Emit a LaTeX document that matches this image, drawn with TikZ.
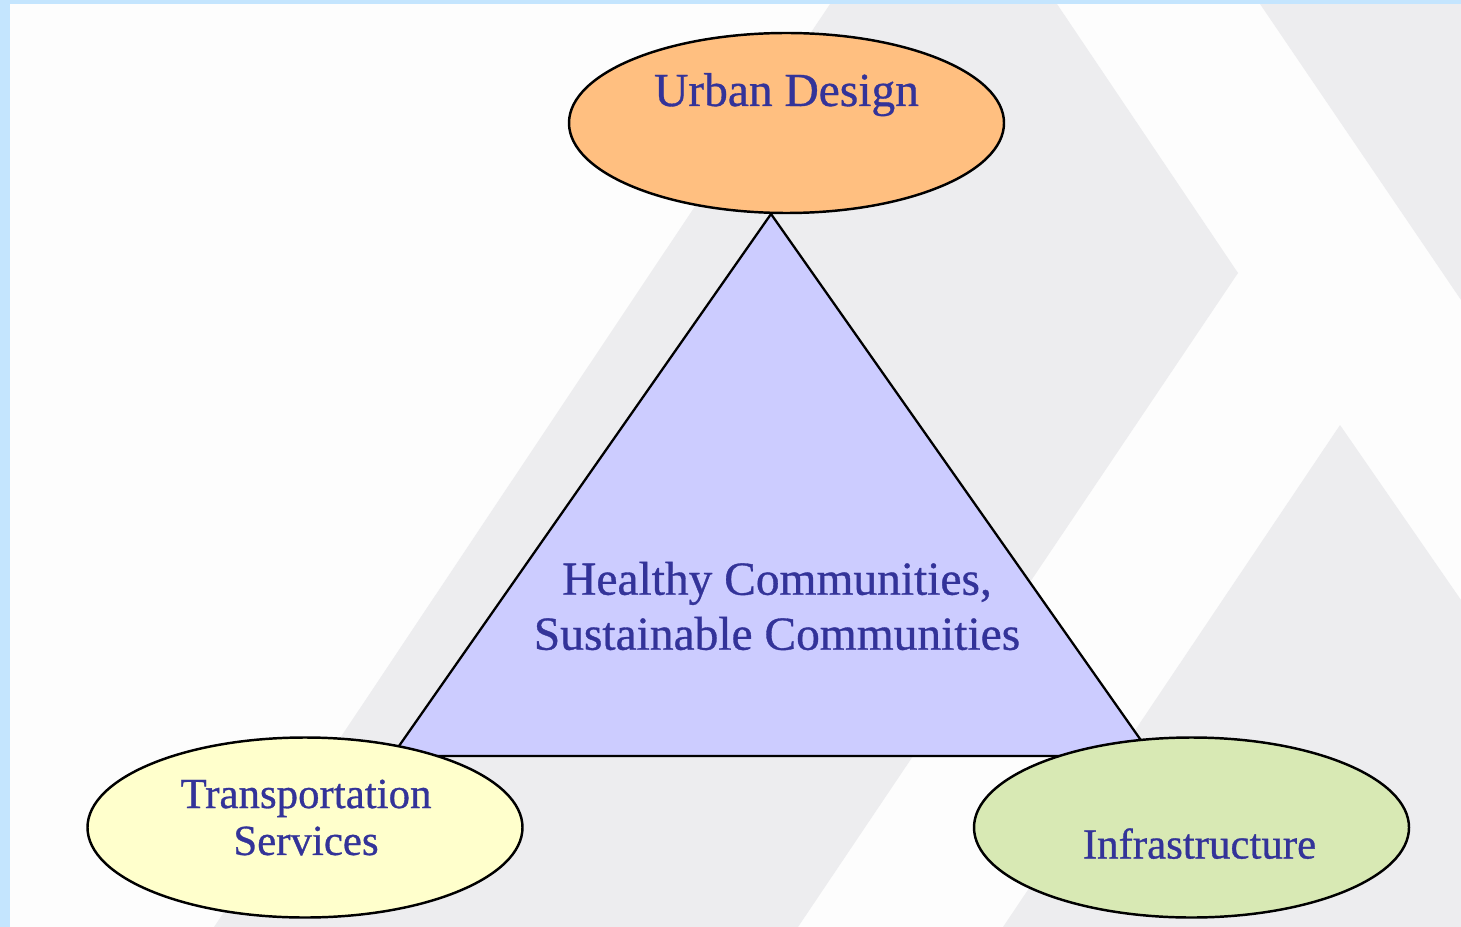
\documentclass[tikz,border=0pt]{standalone}
\usepackage{fontspec}
\setmainfont{Liberation Serif}
\newfontfamily\lblfont{Liberation Serif}[FakeBold=0.7]
\usetikzlibrary{shapes.geometric, positioning, calc}

\definecolor{framebl}{HTML}{C4E5FE}
\definecolor{bggray}{HTML}{EDEDEF}
\definecolor{paper}{HTML}{FDFDFD}
\definecolor{textbl}{HTML}{333399}
\definecolor{udorange}{HTML}{FFBF80}
\definecolor{tsyellow}{HTML}{FFFFCC}
\definecolor{infgreen}{HTML}{D8E9B4}
\definecolor{trililac}{HTML}{CCCCFF}

\begin{document}
\begin{tikzpicture}[
  hub/.style={ellipse, draw, line width=1.4pt, minimum width=8.7cm, minimum height=3.6cm, inner sep=0pt},
  lbl/.style={text=textbl, align=center, inner sep=0pt},
  chevron/.style={fill=bggray, draw=none}
]
  \useasboundingbox (0,0) rectangle (29.22,-18.54);
  \fill[paper] (0,0) rectangle (29.22,-18.54);

  % background chevrons
  \fill[chevron] (16.6,-0.08) -- (21.14,-0.08) -- (24.76,-5.46) -- (15.96,-18.54) -- (4.28,-18.54) -- cycle;
  \fill[chevron] (25.2,-0.08) -- (29.22,-0.08) -- (29.22,-6.0) -- cycle;
  \fill[chevron] (26.8,-8.5) -- (29.22,-12.0) -- (29.22,-18.54) -- (20.06,-18.54) -- cycle;

  % frame
  \fill[framebl] (0,0) rectangle (29.22,-0.08);
  \fill[framebl] (0,0) rectangle (0.2,-18.54);

  % triangle
  \coordinate (apex) at (15.42,-4.28);
  \coordinate (bl) at (7.84,-15.12);
  \coordinate (br) at (23.04,-15.12);
  \draw[fill=trililac, line width=1.3pt, line join=round] (apex) -- (bl) -- (br) -- cycle;

  \node[lbl, font=\lblfont\fontsize{27}{31.3}\selectfont] (hc) at (15.54,-12.12) {Healthy Communities,\\Sustainable Communities};

  \node[hub, fill=udorange] (ud) at (15.73,-2.46) {};
  \node[hub, fill=tsyellow] (ts) at (6.10,-16.55) {};
  \node[hub, fill=infgreen] (inf) at (23.83,-16.55) {};

  \node[lbl, anchor=base, font=\lblfont\fontsize{27}{31}\selectfont] (udt) at ([yshift=0.34cm]ud.center) {Urban Design};
  \node[lbl, font=\lblfont\fontsize{24.4}{26.7}\selectfont] (tst) at ([xshift=0.02cm, yshift=0.2cm]ts.center) {Transportation\\Services};
  \node[lbl, anchor=base, font=\lblfont\fontsize{24.4}{27}\selectfont] (inft) at ([xshift=0.16cm, yshift=-0.62cm]inf.center) {Infrastructure};
\end{tikzpicture}
\end{document}
